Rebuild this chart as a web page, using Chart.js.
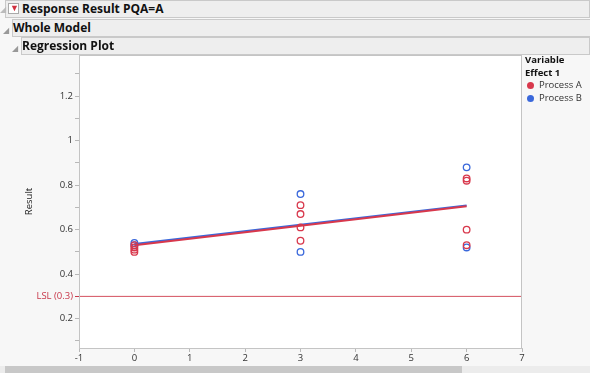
<!DOCTYPE html>
<html>
<head>
  <title>Regression Plot</title>
  <script src="https://cdn.jsdelivr.net/npm/chart.js@4.4.1/dist/chart.umd.min.js"></script>
  <style>
    body { margin: 0; width: 590px; height: 373px; overflow: hidden; background: #f7f7f7; font-family: "Open Sans", "Noto Sans", sans-serif; position: relative; }
    #plot { position: absolute; left: 0; top: 0; }
    .bar { position: absolute; right: 0; height: 16px; background: #eeeeee; border: 1px solid #c9c9c9; font-weight: bold; font-size: 12px; line-height: 16px; color: #111; }
    .tri { position: absolute; font-size: 8px; color: #999; }
    .legend { position: absolute; left: 525px; top: 54px; font-size: 9.5px; color: #333; line-height: 12.5px; }
    .legend b { color: #111; }
    .dot { display: inline-block; width: 7px; height: 7px; border-radius: 50%; margin: 0 5px 0 2px; vertical-align: -1px; }
    .scroll { position: absolute; left: 0; right: 0; top: 366px; height: 7px; background: #ececec; }
    .thumb { position: absolute; left: 5px; width: 457px; top: 0; height: 7px; background: #c8c8c8; }
  </style>
</head>
<body>
  <canvas id="plot" width="590" height="373"></canvas>

  <div class="bar" style="left:5px; top:0px;"><span style="display:inline-block;width:9px;height:9px;border:1px solid #aaa;background:#fff;margin:0 3px 0 2px;vertical-align:-1px;position:relative;"><span style="position:absolute;left:1px;top:-4px;color:#d0303f;font-size:9px;">&#9660;</span></span>Response Result PQA=A</div>
  <span class="tri" style="left:0px; top:3px; color:#bbb;">&#9698;</span>
  <span class="tri" style="left:3px; top:24px;">&#9698;</span>
  <div class="bar" style="left:12px; top:19px; border-right:none;">Whole Model</div>
  <span class="tri" style="left:12px; top:42px;">&#9698;</span>
  <div class="bar" style="left:21px; top:37px;">Regression Plot</div>

  <div class="legend">
    <b>Variable</b><br>
    <b>Effect 1</b><br>
    <span class="dot" style="background:#d8384c"></span>Process A<br>
    <span class="dot" style="background:#3a68db"></span>Process B
  </div>

  <div class="scroll"><div class="thumb"></div></div>

  <script>
    // Process A points (x = Effect level, y = Result)
    const aX = [0, 0, 0, 0, 3, 3, 3, 3, 6, 6, 6, 6];
    const aY = [0.53, 0.52, 0.51, 0.50, 0.71, 0.67, 0.61, 0.55, 0.83, 0.82, 0.60, 0.53];

    // Process B points
    const bX = [0, 0, 3, 3, 6, 6];
    const bY = [0.54, 0.53, 0.76, 0.50, 0.88, 0.52];

    // fitted lines (ends)
    const fitX = [0, 6];
    const fitA = [0.530, 0.705];
    const fitB = [0.535, 0.709];

    // spec limit
    const lslValue = 0.3;
    const lslLabel = 'LSL (0.3)';

    // axes
    const xMin = -1, xMax = 7;
    const yMin = 0.068, yMax = 1.385;
    const yMajor = [0.2, 0.4, 0.6, 0.8, 1, 1.2];
    const yMinor = [0.1, 0.5, 0.7, 0.9, 1.1, 1.3];

    const red = '#d8384c';
    const blue = '#3a68db';

    const pts = (xs, ys) => xs.map((x, i) => ({ x: x, y: ys[i] }));

    const frame = {
      id: 'frame',
      beforeDraw(chart) {
        const a = chart.chartArea, c = chart.ctx;
        c.save();
        c.fillStyle = '#ffffff';
        c.fillRect(a.left, a.top, a.right - a.left, a.bottom - a.top);
        c.restore();
      },
      afterDraw(chart) {
        const a = chart.chartArea, c = chart.ctx;
        c.save();
        c.strokeStyle = '#c4c4c4';
        c.lineWidth = 1;
        c.strokeRect(a.left + 0.5, a.top + 0.5, a.right - a.left - 1, a.bottom - a.top);
        c.restore();
      }
    };

    new Chart(document.getElementById('plot'), {
      type: 'scatter',
      data: {
        datasets: [
          { label: 'LSL', data: [{ x: xMin, y: lslValue }, { x: xMax, y: lslValue }], showLine: true,
            borderColor: '#d4505f', borderWidth: 1, pointRadius: 0 },
          { label: 'Process A', data: pts(aX, aY), borderColor: red, backgroundColor: 'rgba(0,0,0,0)',
            borderWidth: 1.3, pointRadius: 3.3 },
          { label: 'Process B', data: pts(bX, bY), borderColor: blue, backgroundColor: 'rgba(0,0,0,0)',
            borderWidth: 1.3, pointRadius: 3.3 },
          { label: 'Fit A', data: pts(fitX, fitA), showLine: true, borderColor: red, borderWidth: 2, pointRadius: 0 },
          { label: 'Fit B', data: pts(fitX, fitB), showLine: true, borderColor: blue, borderWidth: 2, pointRadius: 0 }
        ]
      },
      options: {
        responsive: false,
        animation: false,
        layout: { padding: { left: 0, top: 55, right: 68, bottom: 6 } },
        plugins: { legend: { display: false }, tooltip: { enabled: false } },
        scales: {
          x: {
            type: 'linear', min: xMin, max: xMax,
            afterFit(s) { s.height = 19; },
            ticks: { stepSize: 1, color: '#333', font: { family: 'Open Sans', size: 9.5 }, padding: 1, maxRotation: 0 },
            grid: { drawOnChartArea: false, tickLength: 4, color: '#b8b8b8' },
            border: { color: '#c4c4c4' }
          },
          y: {
            type: 'linear', min: yMin, max: yMax,
            afterFit(s) { s.width = 79; },
            afterBuildTicks(s) {
              s.ticks = yMajor.concat(yMinor, [lslValue]).sort((p, q) => p - q).map(v => ({ value: v }));
            },
            title: { display: true, text: 'Result', color: '#222', font: { family: 'Open Sans', size: 9.5 }, padding: { top: 24 } },
            ticks: {
              color: ctx => ctx.tick.value === lslValue ? '#c8384a' : '#333',
              font: { family: 'Open Sans', size: 9.5 },
              padding: 2,
              callback(v) {
                if (v === lslValue) return lslLabel;
                return yMajor.includes(v) ? String(v) : '';
              }
            },
            grid: { drawOnChartArea: false, tickLength: 4, color: ctx => ctx.tick && ctx.tick.value === lslValue ? '#c8384a' : '#b8b8b8' },
            border: { color: '#c4c4c4' }
          }
        }
      },
      plugins: [frame]
    });
  </script>
</body>
</html>
